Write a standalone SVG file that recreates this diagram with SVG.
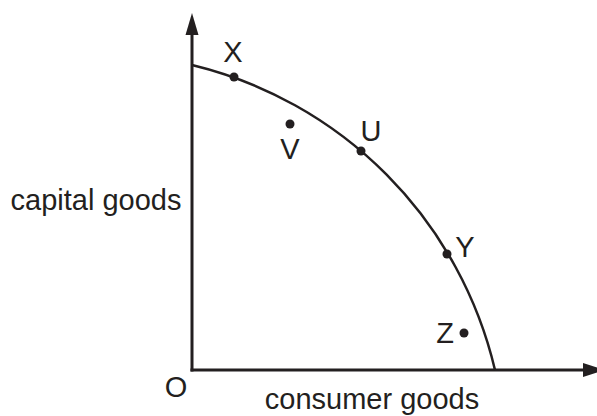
<svg xmlns="http://www.w3.org/2000/svg" width="597" height="416" viewBox="0 0 597 416">
<style>
.ax{stroke:#231f20;stroke-width:3;fill:none}
.cv{stroke:#231f20;stroke-width:2.5;fill:none}
.ah{fill:#231f20}
.dot{fill:#231f20}
text{font-family:"Liberation Sans",Arial,sans-serif;font-size:29px;fill:#231f20}
.m{text-anchor:middle}
</style>
<rect width="597" height="416" fill="#fff"/>
<g id="connectors">
<line class="ax" x1="192" y1="33" x2="192" y2="371.5"/>
<line class="ax" x1="190.5" y1="370" x2="585" y2="370"/>
<polygon class="ah" points="192,13 185.5,35 198.5,35"/>
<polygon class="ah" points="605,370 583,363 583,377"/>
<path class="cv" d="M192,65 A410.6,410.6 0 0 1 495,370"/>
</g>
<g id="origin"><text class="m" x="176" y="397">O</text></g>
<g id="ylabel"><text class="m" x="96" y="210">capital goods</text></g>
<g id="xlabel"><text class="m" x="372" y="409">consumer goods</text></g>
<g id="X"><circle class="dot" cx="234" cy="77" r="4.5"/><text class="m" x="233" y="62">X</text></g>
<g id="U"><circle class="dot" cx="361" cy="151" r="4.5"/><text class="m" x="371" y="141">U</text></g>
<g id="V"><circle class="dot" cx="290" cy="124" r="4.5"/><text class="m" x="290" y="159">V</text></g>
<g id="Y"><circle class="dot" cx="447" cy="254" r="4.5"/><text class="m" x="465" y="257">Y</text></g>
<g id="Z"><circle class="dot" cx="464" cy="333" r="4.5"/><text class="m" x="445" y="343">Z</text></g>
</svg>
